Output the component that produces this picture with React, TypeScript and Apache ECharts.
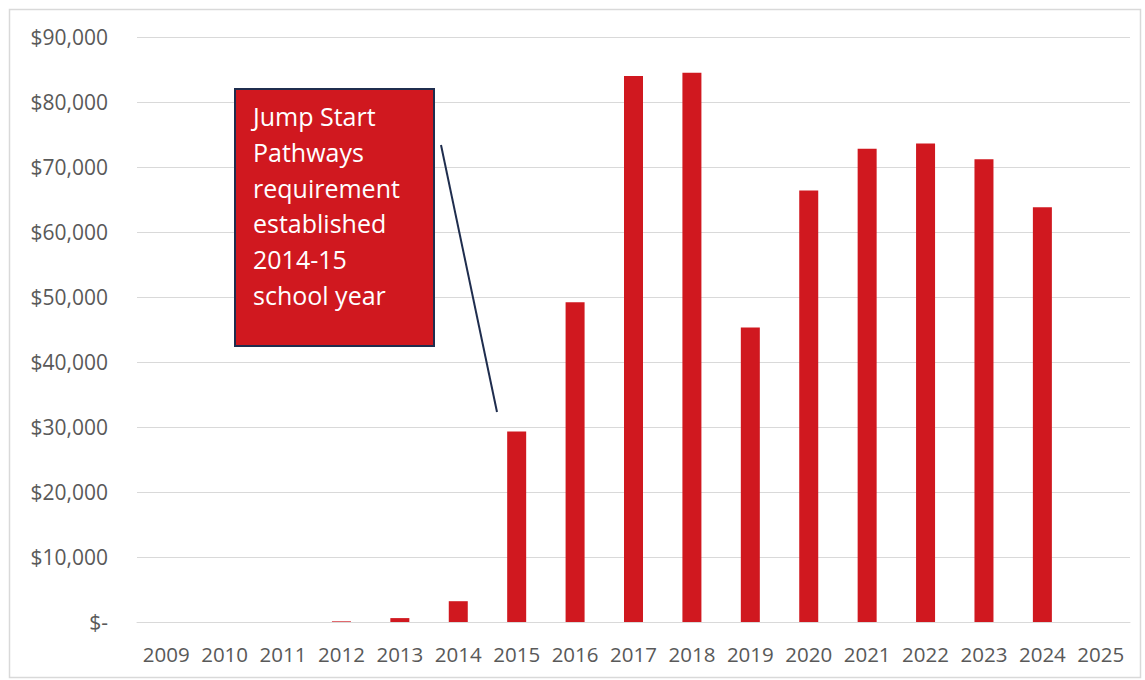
import React, { useEffect, useRef } from "react";
import * as echarts from "echarts";

const years = ["2009","2010","2011","2012","2013","2014","2015","2016","2017","2018","2019","2020","2021","2022","2023","2024","2025"];
const amounts = [0, 0, 0, 100, 600, 3200, 29300, 49200, 84000, 84500, 45300, 66400, 72800, 73600, 71200, 63800, 0];
const noteLines = ["Jump Start", "Pathways", "requirement", "established", "2014-15", "school year"];

export default function App() {
  const ref = useRef<HTMLDivElement>(null);
  useEffect(() => {
    document.body.style.margin = "0";
    const chart = echarts.init(ref.current!, null, { renderer: "svg" });
    const font = "Open Sans";
    chart.setOption({
      animation: false,
      backgroundColor: "#ffffff",
      grid: { left: 137, right: 15, top: 37, bottom: 58 },
      xAxis: {
        type: "category",
        data: years,
        axisLine: { lineStyle: { color: "#d9d9d9", width: 1 } },
        axisTick: { show: false },
        axisLabel: { color: "#595959", fontSize: 20.5, fontFamily: font, margin: 21, interval: 0, hideOverlap: false },
      },
      yAxis: {
        type: "value",
        min: 0,
        max: 90000,
        interval: 10000,
        axisLine: { show: false },
        axisTick: { show: false },
        splitLine: { lineStyle: { color: "#d9d9d9", width: 1 } },
        axisLabel: {
          color: "#595959",
          fontSize: 21,
          fontFamily: font,
          margin: 29,
          formatter: (v: number) => (v === 0 ? "$-" : "$" + v.toLocaleString("en-US")),
        },
      },
      series: [
        {
          type: "bar",
          data: amounts,
          barWidth: 19,
          itemStyle: { color: "#d0181f" },
        },
      ],
      graphic: [
        {
          type: "rect",
          left: 7,
          top: 7,
          shape: { width: 1131, height: 668 },
          style: { fill: "none", stroke: "#d9d9d9", lineWidth: 1.5 },
          silent: true,
        },
        {
          type: "line",
          shape: { x1: 441, y1: 145, x2: 497, y2: 412 },
          style: { stroke: "#1f2d4e", lineWidth: 2 },
          z: 10,
        },
        {
          type: "rect",
          shape: { x: 235, y: 89, width: 199, height: 257 },
          style: { fill: "#d0181f", stroke: "#1f2d4e", lineWidth: 2 },
          z: 11,
        },
        {
          type: "text",
          x: 253,
          y: 98,
          z: 12,
          style: {
            text: noteLines.join("\n"),
            fill: "#ffffff",
            fontSize: 25,
            lineHeight: 35.8,
            fontFamily: font,
          },
        },
      ],
    });
    return () => chart.dispose();
  }, []);
  return <div ref={ref} style={{ width: 1145, height: 680 }} />;
}
